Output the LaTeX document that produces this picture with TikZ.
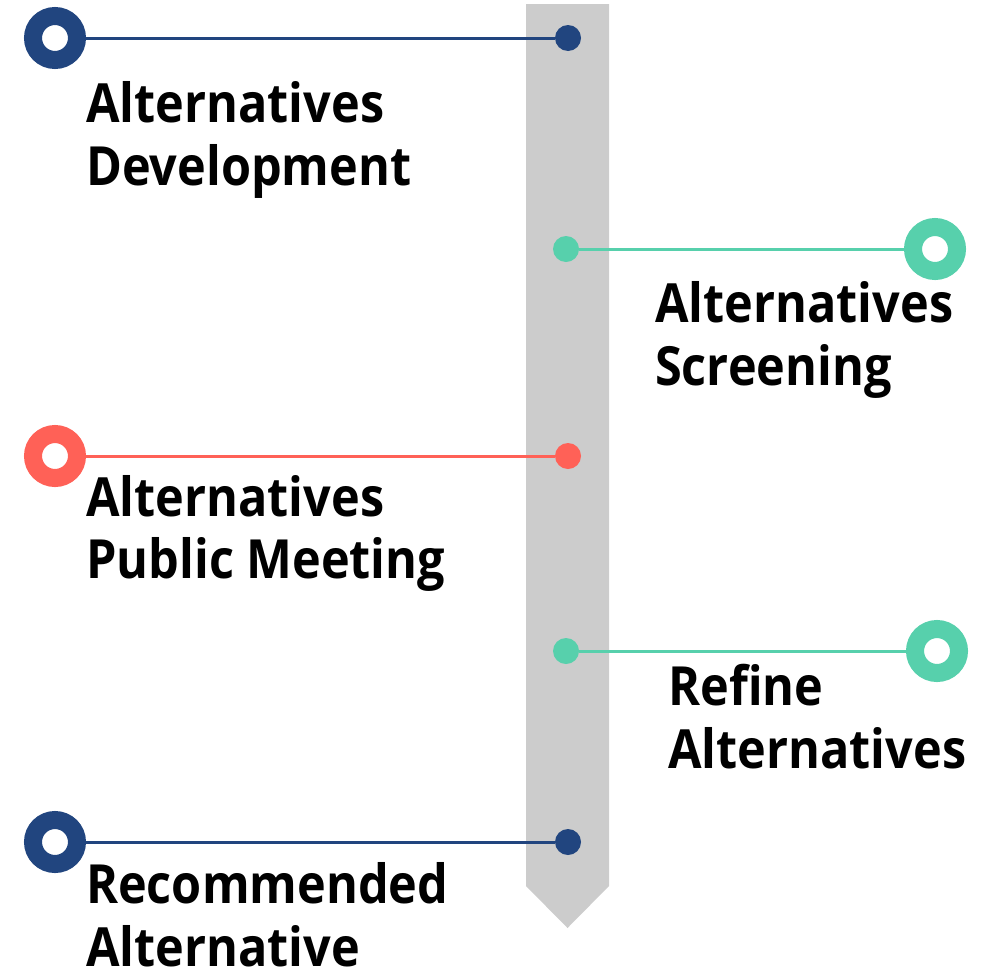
\documentclass[tikz,border=0pt]{standalone}
\usepackage{fontspec}
\newfontfamily\lblfont{Open Sans}[FakeStretch=0.9]
\definecolor{cblue}{HTML}{21457F}
\definecolor{cgreen}{HTML}{57D0AC}
\definecolor{cred}{HTML}{FF6157}
\definecolor{cbar}{HTML}{CCCCCC}
\begin{document}
\begin{tikzpicture}[x=1pt,y=-1pt,
  ring/.style={circle,draw=#1,line width=18pt,fill=white,minimum size=44pt,inner sep=0pt},
  dot/.style={circle,fill=#1,minimum size=26pt,inner sep=0pt},
  link/.style={draw=#1,line width=3pt},
  lbl/.style={anchor=base west,inner sep=0pt,font=\lblfont\bfseries\fontsize{54}{63}\selectfont}]
\useasboundingbox (0,0) rectangle (984,972);
\fill[cbar] (526,4) -- (609,4) -- (609,886) -- (567.5,928) -- (526,886) -- cycle;
% nodes
\node[dot=cblue] (d1) at (568,38) {};
\node[dot=cgreen] (d2) at (566,249) {};
\node[dot=cred] (d3) at (568,456) {};
\node[dot=cgreen] (d4) at (566,651) {};
\node[dot=cblue] (d5) at (568,842) {};
\draw[link=cblue] (55,38) coordinate (c1) -- (d1);
\draw[link=cgreen] (935,249) coordinate (c2) -- (d2);
\draw[link=cred] (55,456) coordinate (c3) -- (d3);
\draw[link=cgreen] (937,651) coordinate (c4) -- (d4);
\draw[link=cblue] (55,842) coordinate (c5) -- (d5);
\node[ring=cblue] (r1) at (c1) {};
\node[ring=cgreen] (r2) at (c2) {};
\node[ring=cred] (r3) at (c3) {};
\node[ring=cgreen] (r4) at (c4) {};
\node[ring=cblue] (r5) at (c5) {};
% labels
\node[lbl] (t1a) at (86,122) {Alternatives};
\node[lbl] (t1b) at (86,185) {Development};
\node[lbl] (t2a) at (655,322) {Alternatives};
\node[lbl] (t2b) at (655,385) {Screening};
\node[lbl] (t3a) at (86,516) {Alternatives};
\node[lbl] (t3b) at (86,578) {Public Meeting};
\node[lbl] (t4a) at (668,705) {Refine};
\node[lbl] (t4b) at (668,768) {Alternatives};
\node[lbl] (t5a) at (86,903) {Recommended};
\node[lbl] (t5b) at (86,966) {Alternative};
\end{tikzpicture}
\end{document}
